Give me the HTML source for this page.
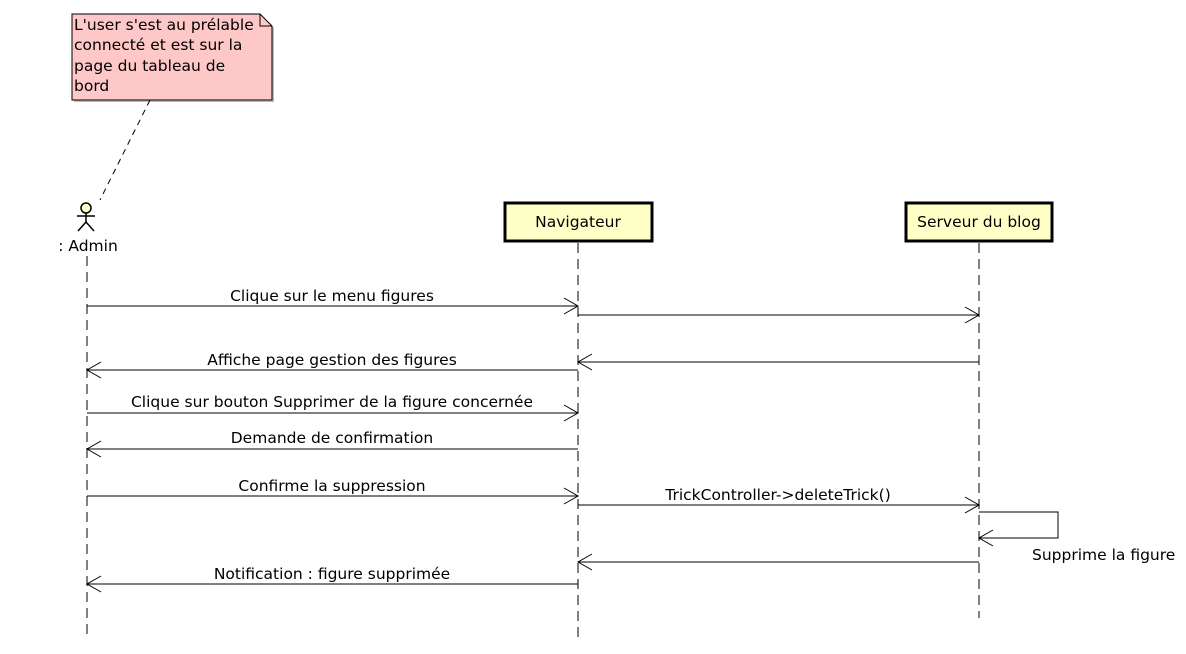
<!DOCTYPE html>
<html><head><meta charset="utf-8"><style>
html,body{margin:0;padding:0;background:#fff;}
svg{display:block;font-family:"DejaVu Sans","Liberation Sans",sans-serif;}
</style></head><body>
<svg width="1186" height="654" viewBox="0 0 1186 654" xmlns="http://www.w3.org/2000/svg">
<!-- note -->
<polygon points="74,16 262,16 274,28 274,102 74,102" fill="#bbb"/>
<polygon points="72,14 260,14 272,26 272,100 72,100" fill="#ffc8c8" stroke="#000" stroke-width="1"/>
<polyline points="260,14 260,26 272,26" fill="none" stroke="#000" stroke-width="1"/>
<g font-size="15.5" fill="#000">
<text x="74" y="30">L'user s'est au prélable</text>
<text x="74" y="50">connecté et est sur la</text>
<text x="74" y="71">page du tableau de</text>
<text x="74" y="91">bord</text>
</g>
<line x1="150" y1="100" x2="100" y2="200" stroke="#000" stroke-dasharray="6,5"/>
<!-- actor -->
<circle cx="86" cy="208" r="5" fill="#ffffc8" stroke="#000" stroke-width="1.5"/>
<line x1="86" y1="213" x2="86" y2="222" stroke="#000" stroke-width="1.5"/>
<line x1="77" y1="216" x2="95" y2="216" stroke="#000" stroke-width="1.5"/>
<line x1="86" y1="222" x2="78" y2="231" stroke="#000" stroke-width="1.5"/>
<line x1="86" y1="222" x2="94" y2="231" stroke="#000" stroke-width="1.5"/>
<text x="88" y="251" font-size="15.5" text-anchor="middle">: Admin</text>
<!-- boxes -->
<rect x="505" y="203" width="147" height="38" fill="#ffffc8" stroke="#000" stroke-width="3"/>
<text x="578" y="227" font-size="15.5" text-anchor="middle">Navigateur</text>
<rect x="906" y="203" width="146" height="38" fill="#ffffc8" stroke="#000" stroke-width="3"/>
<text x="979" y="227" font-size="15.5" text-anchor="middle">Serveur du blog</text>
<!-- lifelines -->
<g stroke="#000" stroke-width="1" stroke-dasharray="10,6">
<line x1="87" y1="256" x2="87" y2="640"/>
<line x1="578" y1="243" x2="578" y2="640"/>
<line x1="979" y1="243" x2="979" y2="618"/>
</g>
<!-- messages -->
<g stroke="#000" stroke-width="1" fill="none">
<line x1="87" y1="306" x2="578" y2="306"/><polyline points="564,298 578,306 564,314"/>
<line x1="578" y1="315" x2="979" y2="315"/><polyline points="965,307 979,315 965,323"/>
<line x1="979" y1="362" x2="578" y2="362"/><polyline points="592,354 578,362 592,370"/>
<line x1="578" y1="370" x2="87" y2="370"/><polyline points="101,362 87,370 101,378"/>
<line x1="87" y1="413" x2="578" y2="413"/><polyline points="564,405 578,413 564,421"/>
<line x1="578" y1="449" x2="87" y2="449"/><polyline points="101,441 87,449 101,457"/>
<line x1="87" y1="496" x2="578" y2="496"/><polyline points="564,488 578,496 564,504"/>
<line x1="578" y1="505" x2="979" y2="505"/><polyline points="965,497 979,505 965,513"/>
<polyline points="979,512 1058,512 1058,538 979,538"/><polyline points="993,530 979,538 993,546"/>
<line x1="979" y1="562" x2="578" y2="562"/><polyline points="592,554 578,562 592,570"/>
<line x1="578" y1="584" x2="87" y2="584"/><polyline points="101,576 87,584 101,592"/>
</g>
<g font-size="15.5" text-anchor="middle">
<text x="332" y="301">Clique sur le menu figures</text>
<text x="332" y="365">Affiche page gestion des figures</text>
<text x="332" y="407">Clique sur bouton Supprimer de la figure concernée</text>
<text x="332" y="443">Demande de confirmation</text>
<text x="332" y="491">Confirme la suppression</text>
<text x="778" y="500">TrickController-&gt;deleteTrick()</text>
<text x="332" y="579">Notification : figure supprimée</text>
</g>
<text x="1032" y="560" font-size="15.5">Supprime la figure</text>
</svg>
</body></html>
